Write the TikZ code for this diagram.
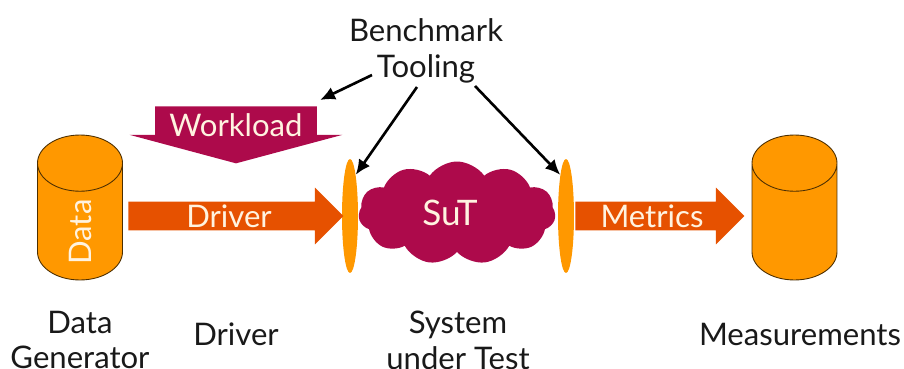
\documentclass[tikz,border=0pt]{standalone}
\usepackage{fontspec}
\setmainfont{Lato}
\usepackage{tikz}
\usetikzlibrary{arrows.meta}
\usetikzlibrary{shapes.geometric}
\usetikzlibrary{shapes.arrows}
\usetikzlibrary{shapes.symbols}
\definecolor{drumorange}{HTML}{FF9800}
\definecolor{sutred}{HTML}{AD0A4B}
\definecolor{flowred}{HTML}{E65100}
\definecolor{palecream}{HTML}{FFF3E0}
\tikzset{
  caption/.style={align=center,text=black!90,font=\fontsize{17.7}{20.4}\selectfont},
  inlabel/.style={text=palecream,font=\fontsize{17.7}{20.4}\selectfont},
  drum/.style={cylinder,shape border rotate=90,shape aspect=8,draw=black!70!drumorange,line width=0.5pt,cylinder uses custom fill,cylinder body fill=drumorange,cylinder end fill=drumorange,minimum height=2.9cm,minimum width=1.7cm,inner sep=2pt,anchor=shape center},
  probe/.style={ellipse,fill=drumorange,minimum width=0.32cm,minimum height=2.28cm,inner sep=0pt},
  flow/.style={single arrow,fill=flowred,minimum width=1.12cm,single arrow head extend=0.28cm,single arrow tip angle=90,inner xsep=0pt,inner ysep=0.28cm,anchor=tail},
  tool/.style={-{Latex[length=0.3cm,width=0.27cm]},line width=1.5pt,black}
}
\begin{document}
\begin{tikzpicture}[x=0.02cm,y=-0.02cm]
  \useasboundingbox (0,0) rectangle (904,369);
  \node[drum] (dataGen) at (80,207.5) {};
  \node[drum] (measure) at (794.5,207.5) {};
  \node[inlabel,rotate=90] (dataLbl) at (80,232) {Data};
  \node[probe] (probeL) at (350,216) {};
  \node[probe] (probeR) at (566,216) {};
  \node[cloud,cloud puffs=11,cloud puff arc=110,aspect=2,fill=sutred,minimum width=3.94cm,minimum height=2.06cm,inner sep=0pt] (sut) at (457,213) {};
  \node[inlabel,font=\fontsize{20}{24}\selectfont] (sutLbl) at (450,213) {SuT};
  \node[flow,minimum height=4.3cm] (driverArrow) at (128,216) {};
  \node[inlabel] (driverLbl) at (229,216) {Driver};
  \node[flow,minimum height=3.38cm] (metricsArrow) at (575,216) {};
  \node[inlabel] (metricsLbl) at (652,216) {Metrics};
  \node[single arrow,rotate=-90,fill=sutred,minimum height=1.14cm,minimum width=4.24cm,single arrow head extend=0.51cm,single arrow tip angle=150,inner xsep=0pt,inner ysep=1.61cm,anchor=tail] (workArrow) at (236,106) {};
  \node[inlabel] (workLbl) at (236,125) {Workload};
  \node[caption] (tooling) at (426,51) {Benchmark\\Tooling};
  \node[caption] (genLbl) at (80,340) {Data\\Generator};
  \node[caption] (drvLbl) at (236,334) {Driver};
  \node[caption] (sysLbl) at (458,340) {System\\under Test};
  \node[caption] (msrLbl) at (800,334) {Measurements};
  \coordinate (toolA) at (372,75);
  \coordinate (toolB) at (417,87);
  \coordinate (toolC) at (475,86);
  \coordinate (workTop) at (320,100);
  \draw[tool] (toolA) -- (workTop);
  \draw[tool] (toolB) -- (probeL.82);
  \draw[tool] (toolC) -- (probeR.98);
\end{tikzpicture}
\end{document}
